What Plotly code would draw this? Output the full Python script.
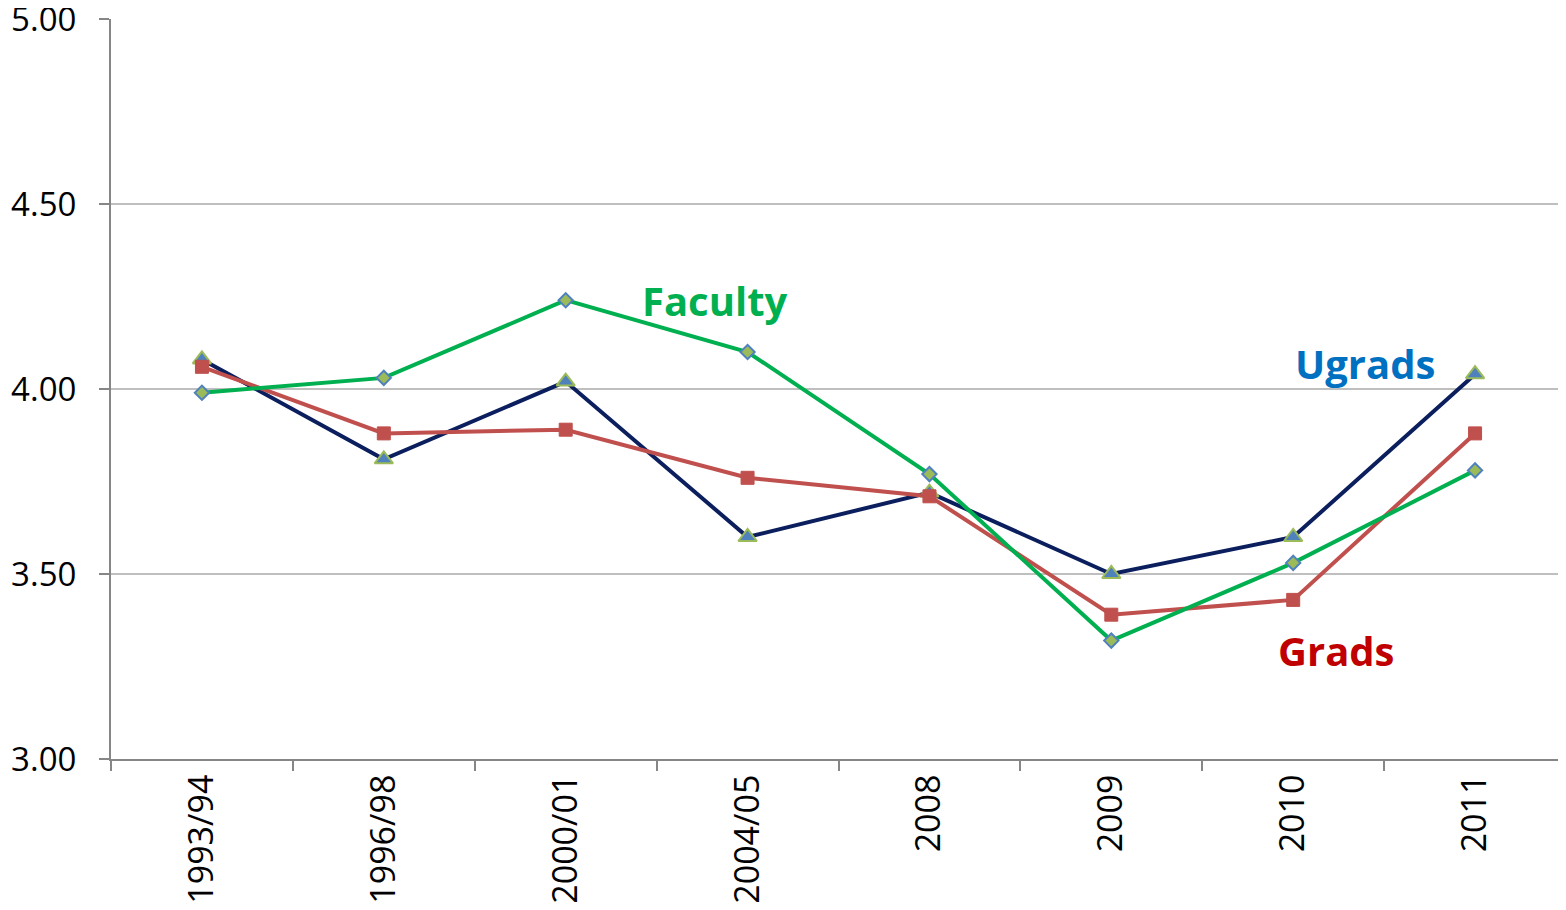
import plotly.graph_objects as go

# survey years (x categories)
years = ["1993/94", "1996/98", "2000/01", "2004/05", "2008", "2009", "2010", "2011"]

# mean scores per group
ugrads = [4.08, 3.81, 4.02, 3.60, 3.72, 3.50, 3.60, 4.04]
grads = [4.06, 3.88, 3.89, 3.76, 3.71, 3.39, 3.43, 3.88]
faculty = [3.99, 4.03, 4.24, 4.10, 3.77, 3.32, 3.53, 3.78]

y_ticks = [3.0, 3.5, 4.0, 4.5, 5.0]

FONT = "Open Sans"

fig = go.Figure()

fig.add_trace(go.Scatter(
    x=years, y=ugrads, name="Ugrads", mode="lines+markers",
    line=dict(color="#0B1F5E", width=4),
    marker=dict(symbol="triangle-up", size=16, color="#4F81BD",
                line=dict(color="#9BBB59", width=2)),
))
fig.add_trace(go.Scatter(
    x=years, y=grads, name="Grads", mode="lines+markers",
    line=dict(color="#C0504D", width=4),
    marker=dict(symbol="square", size=13, color="#C0504D",
                line=dict(color="#C0504D", width=1)),
))
fig.add_trace(go.Scatter(
    x=years, y=faculty, name="Faculty", mode="lines+markers",
    line=dict(color="#00B050", width=4),
    marker=dict(symbol="diamond", size=11, color="#9BBB59",
                line=dict(color="#4F81BD", width=2)),
))

# series labels
labels = [
    ("Faculty", "#00B050", 0.415, 0.620),
    ("Ugrads", "#0070C0", 0.862, 0.535),
    ("Grads", "#C00000", 0.842, 0.146),
]
for txt, col, ax, ay in labels:
    fig.add_annotation(x=ax, y=ay, xref="paper", yref="paper", text="<b>%s</b>" % txt,
                       xanchor="center", yanchor="middle",
                       showarrow=False, font=dict(family=FONT, size=40, color=col))

# page body has an 8px margin, so the figure is 8px smaller than the window
fig.update_layout(
    width=1558, height=902,
    margin=dict(l=103, r=0, t=11, b=151),
    paper_bgcolor="white", plot_bgcolor="white",
    showlegend=False,
    font=dict(family=FONT, size=32, color="black"),
)
fig.update_xaxes(
    type="category", range=[-0.5, len(years) - 0.5],
    tickangle=-90, tickson="boundaries",
    ticks="outside", ticklen=10, tickcolor="#868686", tickwidth=2,
    showline=True, linecolor="#868686", linewidth=2,
    showgrid=False, tickfont=dict(family=FONT, size=34),
    automargin=False, ticklabeloverflow="allow",
)
fig.update_yaxes(
    range=[3, 5], tickvals=y_ticks, tickformat=".2f",
    ticks="outside", ticklen=10, tickcolor="#868686", tickwidth=2,
    showline=True, linecolor="#868686", linewidth=2,
    showgrid=True, gridcolor="#BFBFBF", gridwidth=2, zeroline=False,
    tickfont=dict(family=FONT, size=33), ticklabelstandoff=16,
    automargin=False, ticklabeloverflow="allow",
)

fig.write_html("out.html")
